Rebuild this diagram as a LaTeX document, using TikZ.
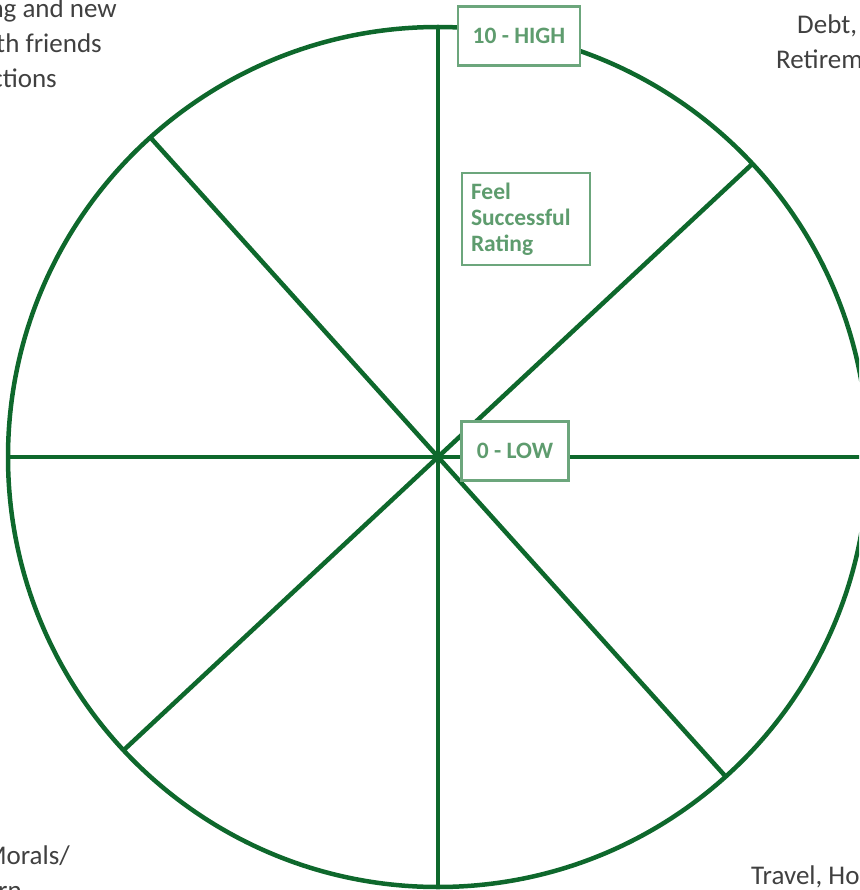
\documentclass[tikz,border=0pt]{standalone}
\usepackage{fontspec}
\setmainfont{Carlito}
\definecolor{wheel}{RGB}{14,104,44}
\definecolor{boxline}{RGB}{108,166,124}
\definecolor{boxtext}{RGB}{94,156,110}
\definecolor{bodytext}{RGB}{64,64,64}
\begin{document}
\begin{tikzpicture}[x=1pt,y=-1pt,
  spoke/.style={draw=wheel,line width=4.5pt},
  labelbox/.style={draw=boxline,line width=2.5pt,fill=white,inner sep=0pt,
    text=boxtext,font=\bfseries\fontsize{23.5}{26}\selectfont},
  side/.style={text=bodytext,font=\fontsize{27}{35}\selectfont,inner sep=0pt}]
\useasboundingbox (0,0) rectangle (859,890);
\clip (0,0) rectangle (859,890);
\coordinate (c) at (438,457);
\coordinate (n) at (438,27);
\coordinate (s) at (438,887);
\coordinate (w) at (8,457);
\coordinate (e) at (868,457);
\coordinate (ne) at (752.5,163.7);
\coordinate (sw) at (123.5,750.3);
\coordinate (nw) at (150.3,137.4);
\coordinate (se) at (725.7,776.6);
\draw[spoke] (c) circle[radius=430pt];
\draw[spoke] (n) -- (s);
\draw[spoke] (w) -- (e);
\draw[spoke] (ne) -- (sw);
\draw[spoke] (nw) -- (se);
\node[labelbox,minimum width=122pt,minimum height=59pt] (high) at (519,36) {10 - HIGH};
\node[labelbox,minimum width=128pt,minimum height=92pt,text width=110pt,align=left,
  font=\bfseries\fontsize{23.5}{26}\selectfont] (feel) at (526,219) {Feel\\Successful\\Rating};
\node[labelbox,minimum width=107pt,minimum height=59pt] (low) at (515,451) {0 - LOW};
\node[side,anchor=base east] (tl1) at (117,18) {Socializing and new};
\node[side,anchor=base east] (tl2) at (102,53) {experiences with friends};
\node[side,anchor=base east] (tl3) at (57,88) {Connections};
\node[side,anchor=base west] (tr1) at (797,34) {Debt,};
\node[side,anchor=base west] (tr2) at (776,69) {Retirement};
\node[side,anchor=base east] (bl1) at (70,864) {Morals/};
\node[side,anchor=base east] (bl2) at (22,899) {Pattern};
\node[side,anchor=base west] (br1) at (751,884) {Travel, Hobbies};
\end{tikzpicture}
\end{document}
